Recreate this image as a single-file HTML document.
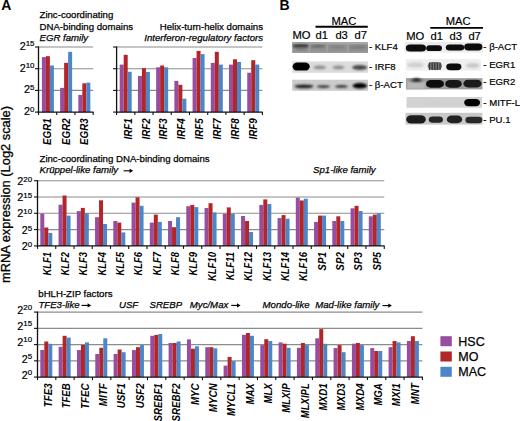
<!DOCTYPE html><html><head><meta charset="utf-8"><style>
html,body{margin:0;padding:0;background:#fff;}
svg{display:block;font-family:"Liberation Sans", sans-serif;}
.cl{font-size:10.2px;font-style:italic;font-weight:bold;fill:#000;}
.yl{font-size:10.8px;fill:#000;stroke:#000;stroke-width:0.2px;}
.sup{font-size:7.9px;}
.h{font-size:9.65px;fill:#000;stroke:#000;stroke-width:0.25px;}
.hi{font-size:9.65px;font-style:italic;fill:#000;stroke:#000;stroke-width:0.25px;}
.bl{font-size:9.6px;fill:#000;stroke:#000;stroke-width:0.2px;}
.bh{font-size:11.2px;fill:#000;stroke:#000;stroke-width:0.2px;}
</style></head><body>
<svg width="520" height="421" viewBox="0 0 520 421">
<rect width="520" height="421" fill="#fff"/>
<text x="0" y="0" transform="translate(1.2 10.1)" style="font-size:14px;font-weight:bold" fill="#000">A</text>
<text x="0" y="0" transform="translate(279.4 10.1)" style="font-size:14px;font-weight:bold" fill="#000">B</text>
<text x="39.5" y="18.1" class="h">Zinc-coordinating</text>
<text x="39.5" y="29.6" class="h">DNA-binding domains</text>
<text x="39.5" y="40.7" class="hi">EGR family</text>
<text x="263" y="29.6" class="h" text-anchor="end">Helix-turn-helix domains</text>
<text x="263" y="40.7" class="hi" text-anchor="end">Interferon-regulatory factors</text>
<line x1="38.50" y1="90.40" x2="93.16" y2="90.40" stroke="#8c8c8c" stroke-width="1.1"/>
<line x1="38.50" y1="68.70" x2="93.16" y2="68.70" stroke="#8c8c8c" stroke-width="1.1"/>
<line x1="38.50" y1="47.00" x2="93.16" y2="47.00" stroke="#8c8c8c" stroke-width="1.1"/>
<rect x="41.90" y="57.10" width="4.00" height="55.00" fill="#984e9f"/>
<rect x="45.90" y="56.20" width="4.00" height="55.90" fill="#b22528"/>
<rect x="49.90" y="65.50" width="4.00" height="46.60" fill="#4c86c8"/>
<rect x="60.12" y="87.90" width="4.00" height="24.20" fill="#984e9f"/>
<rect x="64.12" y="62.80" width="4.00" height="49.30" fill="#b22528"/>
<rect x="68.12" y="51.80" width="4.00" height="60.30" fill="#4c86c8"/>
<rect x="78.34" y="94.90" width="4.00" height="17.20" fill="#984e9f"/>
<rect x="82.34" y="83.30" width="4.00" height="28.80" fill="#b22528"/>
<rect x="86.34" y="82.60" width="4.00" height="29.50" fill="#4c86c8"/>
<line x1="38.50" y1="46.50" x2="38.50" y2="112.70" stroke="#111" stroke-width="1.3"/>
<line x1="37.90" y1="112.10" x2="93.56" y2="112.10" stroke="#111" stroke-width="1.3"/>
<line x1="35.00" y1="112.10" x2="38.50" y2="112.10" stroke="#111" stroke-width="1.1"/>
<line x1="35.00" y1="90.40" x2="38.50" y2="90.40" stroke="#111" stroke-width="1.1"/>
<line x1="35.00" y1="68.70" x2="38.50" y2="68.70" stroke="#111" stroke-width="1.1"/>
<line x1="35.00" y1="47.00" x2="38.50" y2="47.00" stroke="#111" stroke-width="1.1"/>
<line x1="38.50" y1="112.10" x2="38.50" y2="115.10" stroke="#111" stroke-width="1.1"/>
<line x1="56.72" y1="112.10" x2="56.72" y2="115.10" stroke="#111" stroke-width="1.1"/>
<line x1="74.94" y1="112.10" x2="74.94" y2="115.10" stroke="#111" stroke-width="1.1"/>
<line x1="93.16" y1="112.10" x2="93.16" y2="115.10" stroke="#111" stroke-width="1.1"/>
<text x="51.25" y="118.30" transform="rotate(-90 51.25 118.30)" text-anchor="end" class="cl" textLength="26.69" lengthAdjust="spacingAndGlyphs">EGR1</text>
<text x="69.85" y="118.30" transform="rotate(-90 69.85 118.30)" text-anchor="end" class="cl" textLength="26.69" lengthAdjust="spacingAndGlyphs">EGR2</text>
<text x="88.45" y="118.30" transform="rotate(-90 88.45 118.30)" text-anchor="end" class="cl" textLength="26.69" lengthAdjust="spacingAndGlyphs">EGR3</text>
<text x="34.50" y="114.90" text-anchor="end" class="yl">2<tspan dy="-3.4" class="sup">0</tspan></text>
<text x="34.50" y="93.20" text-anchor="end" class="yl">2<tspan dy="-3.4" class="sup">5</tspan></text>
<text x="34.50" y="71.50" text-anchor="end" class="yl">2<tspan dy="-3.4" class="sup">10</tspan></text>
<text x="34.50" y="49.80" text-anchor="end" class="yl">2<tspan dy="-3.4" class="sup">15</tspan></text>
<line x1="116.60" y1="90.40" x2="262.36" y2="90.40" stroke="#8c8c8c" stroke-width="1.1"/>
<line x1="116.60" y1="68.70" x2="262.36" y2="68.70" stroke="#8c8c8c" stroke-width="1.1"/>
<line x1="116.60" y1="47.00" x2="262.36" y2="47.00" stroke="#8c8c8c" stroke-width="1.1"/>
<rect x="119.70" y="64.60" width="4.00" height="47.50" fill="#984e9f"/>
<rect x="123.70" y="54.80" width="4.00" height="57.30" fill="#b22528"/>
<rect x="127.70" y="71.80" width="4.00" height="40.30" fill="#4c86c8"/>
<rect x="137.92" y="75.90" width="4.00" height="36.20" fill="#984e9f"/>
<rect x="141.92" y="68.20" width="4.00" height="43.90" fill="#b22528"/>
<rect x="145.92" y="71.90" width="4.00" height="40.20" fill="#4c86c8"/>
<rect x="156.14" y="67.30" width="4.00" height="44.80" fill="#984e9f"/>
<rect x="160.14" y="65.50" width="4.00" height="46.60" fill="#b22528"/>
<rect x="164.14" y="67.30" width="4.00" height="44.80" fill="#4c86c8"/>
<rect x="174.36" y="80.90" width="4.00" height="31.20" fill="#984e9f"/>
<rect x="178.36" y="84.80" width="4.00" height="27.30" fill="#b22528"/>
<rect x="182.36" y="98.70" width="4.00" height="13.40" fill="#4c86c8"/>
<rect x="192.58" y="58.00" width="4.00" height="54.10" fill="#984e9f"/>
<rect x="196.58" y="50.90" width="4.00" height="61.20" fill="#b22528"/>
<rect x="200.58" y="54.10" width="4.00" height="58.00" fill="#4c86c8"/>
<rect x="210.80" y="62.90" width="4.00" height="49.20" fill="#984e9f"/>
<rect x="214.80" y="51.80" width="4.00" height="60.30" fill="#b22528"/>
<rect x="218.80" y="64.60" width="4.00" height="47.50" fill="#4c86c8"/>
<rect x="229.02" y="64.60" width="4.00" height="47.50" fill="#984e9f"/>
<rect x="233.02" y="59.30" width="4.00" height="52.80" fill="#b22528"/>
<rect x="237.02" y="62.00" width="4.00" height="50.10" fill="#4c86c8"/>
<rect x="247.24" y="72.70" width="4.00" height="39.40" fill="#984e9f"/>
<rect x="251.24" y="60.20" width="4.00" height="51.90" fill="#b22528"/>
<rect x="255.24" y="64.60" width="4.00" height="47.50" fill="#4c86c8"/>
<line x1="116.60" y1="46.50" x2="116.60" y2="112.70" stroke="#111" stroke-width="1.3"/>
<line x1="116.00" y1="112.10" x2="262.76" y2="112.10" stroke="#111" stroke-width="1.3"/>
<line x1="113.10" y1="112.10" x2="116.60" y2="112.10" stroke="#111" stroke-width="1.1"/>
<line x1="113.10" y1="90.40" x2="116.60" y2="90.40" stroke="#111" stroke-width="1.1"/>
<line x1="113.10" y1="68.70" x2="116.60" y2="68.70" stroke="#111" stroke-width="1.1"/>
<line x1="113.10" y1="47.00" x2="116.60" y2="47.00" stroke="#111" stroke-width="1.1"/>
<line x1="116.60" y1="112.10" x2="116.60" y2="115.10" stroke="#111" stroke-width="1.1"/>
<line x1="134.82" y1="112.10" x2="134.82" y2="115.10" stroke="#111" stroke-width="1.1"/>
<line x1="153.04" y1="112.10" x2="153.04" y2="115.10" stroke="#111" stroke-width="1.1"/>
<line x1="171.26" y1="112.10" x2="171.26" y2="115.10" stroke="#111" stroke-width="1.1"/>
<line x1="189.48" y1="112.10" x2="189.48" y2="115.10" stroke="#111" stroke-width="1.1"/>
<line x1="207.70" y1="112.10" x2="207.70" y2="115.10" stroke="#111" stroke-width="1.1"/>
<line x1="225.92" y1="112.10" x2="225.92" y2="115.10" stroke="#111" stroke-width="1.1"/>
<line x1="244.14" y1="112.10" x2="244.14" y2="115.10" stroke="#111" stroke-width="1.1"/>
<line x1="262.36" y1="112.10" x2="262.36" y2="115.10" stroke="#111" stroke-width="1.1"/>
<text x="131.70" y="118.30" transform="rotate(-90 131.70 118.30)" text-anchor="end" class="cl" textLength="21.24" lengthAdjust="spacingAndGlyphs">IRF1</text>
<text x="149.60" y="118.30" transform="rotate(-90 149.60 118.30)" text-anchor="end" class="cl" textLength="21.24" lengthAdjust="spacingAndGlyphs">IRF2</text>
<text x="167.50" y="118.30" transform="rotate(-90 167.50 118.30)" text-anchor="end" class="cl" textLength="21.24" lengthAdjust="spacingAndGlyphs">IRF3</text>
<text x="185.40" y="118.30" transform="rotate(-90 185.40 118.30)" text-anchor="end" class="cl" textLength="21.24" lengthAdjust="spacingAndGlyphs">IRF4</text>
<text x="203.30" y="118.30" transform="rotate(-90 203.30 118.30)" text-anchor="end" class="cl" textLength="21.24" lengthAdjust="spacingAndGlyphs">IRF5</text>
<text x="221.20" y="118.30" transform="rotate(-90 221.20 118.30)" text-anchor="end" class="cl" textLength="21.24" lengthAdjust="spacingAndGlyphs">IRF7</text>
<text x="239.10" y="118.30" transform="rotate(-90 239.10 118.30)" text-anchor="end" class="cl" textLength="21.24" lengthAdjust="spacingAndGlyphs">IRF8</text>
<text x="257.00" y="118.30" transform="rotate(-90 257.00 118.30)" text-anchor="end" class="cl" textLength="21.24" lengthAdjust="spacingAndGlyphs">IRF9</text>
<text x="39.5" y="161.9" class="h">Zinc-coordinating DNA-binding domains</text>
<text x="39.5" y="173" class="hi">Krüppel-like family</text>
<line x1="123.6" y1="170.8" x2="130.39999999999998" y2="170.8" stroke="#000" stroke-width="1.1"/>
<path d="M129.6,168.70000000000002 L133.2,170.8 L129.6,172.9 Z" fill="#000"/>

<text x="313" y="173" class="hi">Sp1-like family</text>
<line x1="37.50" y1="229.60" x2="384.25" y2="229.60" stroke="#8c8c8c" stroke-width="1.1"/>
<line x1="37.50" y1="213.30" x2="384.25" y2="213.30" stroke="#8c8c8c" stroke-width="1.1"/>
<line x1="37.50" y1="197.00" x2="384.25" y2="197.00" stroke="#8c8c8c" stroke-width="1.1"/>
<line x1="37.50" y1="180.70" x2="384.25" y2="180.70" stroke="#8c8c8c" stroke-width="1.1"/>
<rect x="40.30" y="213.60" width="4.00" height="32.30" fill="#984e9f"/>
<rect x="44.30" y="227.50" width="4.00" height="18.40" fill="#b22528"/>
<rect x="48.30" y="232.90" width="4.00" height="13.00" fill="#4c86c8"/>
<rect x="58.55" y="204.70" width="4.00" height="41.20" fill="#984e9f"/>
<rect x="62.55" y="195.50" width="4.00" height="50.40" fill="#b22528"/>
<rect x="66.55" y="215.60" width="4.00" height="30.30" fill="#4c86c8"/>
<rect x="76.80" y="211.10" width="4.00" height="34.80" fill="#984e9f"/>
<rect x="80.80" y="207.90" width="4.00" height="38.00" fill="#b22528"/>
<rect x="84.80" y="213.30" width="4.00" height="32.60" fill="#4c86c8"/>
<rect x="95.05" y="217.20" width="4.00" height="28.70" fill="#984e9f"/>
<rect x="99.05" y="200.30" width="4.00" height="45.60" fill="#b22528"/>
<rect x="103.05" y="224.00" width="4.00" height="21.90" fill="#4c86c8"/>
<rect x="113.30" y="221.00" width="4.00" height="24.90" fill="#984e9f"/>
<rect x="117.30" y="222.60" width="4.00" height="23.30" fill="#b22528"/>
<rect x="121.30" y="232.40" width="4.00" height="13.50" fill="#4c86c8"/>
<rect x="131.55" y="202.60" width="4.00" height="43.30" fill="#984e9f"/>
<rect x="135.55" y="197.30" width="4.00" height="48.60" fill="#b22528"/>
<rect x="139.55" y="205.80" width="4.00" height="40.10" fill="#4c86c8"/>
<rect x="149.80" y="222.60" width="4.00" height="23.30" fill="#984e9f"/>
<rect x="153.80" y="214.60" width="4.00" height="31.30" fill="#b22528"/>
<rect x="157.80" y="221.90" width="4.00" height="24.00" fill="#4c86c8"/>
<rect x="168.05" y="221.00" width="4.00" height="24.90" fill="#984e9f"/>
<rect x="172.05" y="227.20" width="4.00" height="18.70" fill="#b22528"/>
<rect x="176.05" y="217.20" width="4.00" height="28.70" fill="#4c86c8"/>
<rect x="186.30" y="206.20" width="4.00" height="39.70" fill="#984e9f"/>
<rect x="190.30" y="204.90" width="4.00" height="41.00" fill="#b22528"/>
<rect x="194.30" y="207.10" width="4.00" height="38.80" fill="#4c86c8"/>
<rect x="204.55" y="208.00" width="4.00" height="37.90" fill="#984e9f"/>
<rect x="208.55" y="203.20" width="4.00" height="42.70" fill="#b22528"/>
<rect x="212.55" y="212.40" width="4.00" height="33.50" fill="#4c86c8"/>
<rect x="222.80" y="213.70" width="4.00" height="32.20" fill="#984e9f"/>
<rect x="226.80" y="207.40" width="4.00" height="38.50" fill="#b22528"/>
<rect x="230.80" y="213.70" width="4.00" height="32.20" fill="#4c86c8"/>
<rect x="241.05" y="216.00" width="4.00" height="29.90" fill="#984e9f"/>
<rect x="245.05" y="221.00" width="4.00" height="24.90" fill="#b22528"/>
<rect x="249.05" y="232.00" width="4.00" height="13.90" fill="#4c86c8"/>
<rect x="259.30" y="204.90" width="4.00" height="41.00" fill="#984e9f"/>
<rect x="263.30" y="199.40" width="4.00" height="46.50" fill="#b22528"/>
<rect x="267.30" y="204.00" width="4.00" height="41.90" fill="#4c86c8"/>
<rect x="277.55" y="218.10" width="4.00" height="27.80" fill="#984e9f"/>
<rect x="281.55" y="215.10" width="4.00" height="30.80" fill="#b22528"/>
<rect x="285.55" y="218.70" width="4.00" height="27.20" fill="#4c86c8"/>
<rect x="295.80" y="197.60" width="4.00" height="48.30" fill="#984e9f"/>
<rect x="299.80" y="200.50" width="4.00" height="45.40" fill="#b22528"/>
<rect x="303.80" y="198.70" width="4.00" height="47.20" fill="#4c86c8"/>
<rect x="314.05" y="221.90" width="4.00" height="24.00" fill="#984e9f"/>
<rect x="318.05" y="215.60" width="4.00" height="30.30" fill="#b22528"/>
<rect x="322.05" y="215.60" width="4.00" height="30.30" fill="#4c86c8"/>
<rect x="332.30" y="221.00" width="4.00" height="24.90" fill="#984e9f"/>
<rect x="336.30" y="216.30" width="4.00" height="29.60" fill="#b22528"/>
<rect x="340.30" y="221.00" width="4.00" height="24.90" fill="#4c86c8"/>
<rect x="350.55" y="208.30" width="4.00" height="37.60" fill="#984e9f"/>
<rect x="354.55" y="205.80" width="4.00" height="40.10" fill="#b22528"/>
<rect x="358.55" y="211.00" width="4.00" height="34.90" fill="#4c86c8"/>
<rect x="368.80" y="216.30" width="4.00" height="29.60" fill="#984e9f"/>
<rect x="372.80" y="214.60" width="4.00" height="31.30" fill="#b22528"/>
<rect x="376.80" y="213.30" width="4.00" height="32.60" fill="#4c86c8"/>
<line x1="37.50" y1="180.20" x2="37.50" y2="246.50" stroke="#111" stroke-width="1.3"/>
<line x1="36.90" y1="245.90" x2="384.65" y2="245.90" stroke="#111" stroke-width="1.3"/>
<line x1="34.00" y1="245.90" x2="37.50" y2="245.90" stroke="#111" stroke-width="1.1"/>
<line x1="34.00" y1="229.60" x2="37.50" y2="229.60" stroke="#111" stroke-width="1.1"/>
<line x1="34.00" y1="213.30" x2="37.50" y2="213.30" stroke="#111" stroke-width="1.1"/>
<line x1="34.00" y1="197.00" x2="37.50" y2="197.00" stroke="#111" stroke-width="1.1"/>
<line x1="34.00" y1="180.70" x2="37.50" y2="180.70" stroke="#111" stroke-width="1.1"/>
<line x1="37.50" y1="245.90" x2="37.50" y2="248.90" stroke="#111" stroke-width="1.1"/>
<line x1="55.75" y1="245.90" x2="55.75" y2="248.90" stroke="#111" stroke-width="1.1"/>
<line x1="74.00" y1="245.90" x2="74.00" y2="248.90" stroke="#111" stroke-width="1.1"/>
<line x1="92.25" y1="245.90" x2="92.25" y2="248.90" stroke="#111" stroke-width="1.1"/>
<line x1="110.50" y1="245.90" x2="110.50" y2="248.90" stroke="#111" stroke-width="1.1"/>
<line x1="128.75" y1="245.90" x2="128.75" y2="248.90" stroke="#111" stroke-width="1.1"/>
<line x1="147.00" y1="245.90" x2="147.00" y2="248.90" stroke="#111" stroke-width="1.1"/>
<line x1="165.25" y1="245.90" x2="165.25" y2="248.90" stroke="#111" stroke-width="1.1"/>
<line x1="183.50" y1="245.90" x2="183.50" y2="248.90" stroke="#111" stroke-width="1.1"/>
<line x1="201.75" y1="245.90" x2="201.75" y2="248.90" stroke="#111" stroke-width="1.1"/>
<line x1="220.00" y1="245.90" x2="220.00" y2="248.90" stroke="#111" stroke-width="1.1"/>
<line x1="238.25" y1="245.90" x2="238.25" y2="248.90" stroke="#111" stroke-width="1.1"/>
<line x1="256.50" y1="245.90" x2="256.50" y2="248.90" stroke="#111" stroke-width="1.1"/>
<line x1="274.75" y1="245.90" x2="274.75" y2="248.90" stroke="#111" stroke-width="1.1"/>
<line x1="293.00" y1="245.90" x2="293.00" y2="248.90" stroke="#111" stroke-width="1.1"/>
<line x1="311.25" y1="245.90" x2="311.25" y2="248.90" stroke="#111" stroke-width="1.1"/>
<line x1="329.50" y1="245.90" x2="329.50" y2="248.90" stroke="#111" stroke-width="1.1"/>
<line x1="347.75" y1="245.90" x2="347.75" y2="248.90" stroke="#111" stroke-width="1.1"/>
<line x1="366.00" y1="245.90" x2="366.00" y2="248.90" stroke="#111" stroke-width="1.1"/>
<line x1="384.25" y1="245.90" x2="384.25" y2="248.90" stroke="#111" stroke-width="1.1"/>
<text x="50.80" y="252.10" transform="rotate(-90 50.80 252.10)" text-anchor="end" class="cl" textLength="23.42" lengthAdjust="spacingAndGlyphs">KLF1</text>
<text x="69.13" y="252.10" transform="rotate(-90 69.13 252.10)" text-anchor="end" class="cl" textLength="23.42" lengthAdjust="spacingAndGlyphs">KLF2</text>
<text x="87.46" y="252.10" transform="rotate(-90 87.46 252.10)" text-anchor="end" class="cl" textLength="23.42" lengthAdjust="spacingAndGlyphs">KLF3</text>
<text x="105.79" y="252.10" transform="rotate(-90 105.79 252.10)" text-anchor="end" class="cl" textLength="23.42" lengthAdjust="spacingAndGlyphs">KLF4</text>
<text x="124.12" y="252.10" transform="rotate(-90 124.12 252.10)" text-anchor="end" class="cl" textLength="23.42" lengthAdjust="spacingAndGlyphs">KLF5</text>
<text x="142.45" y="252.10" transform="rotate(-90 142.45 252.10)" text-anchor="end" class="cl" textLength="23.42" lengthAdjust="spacingAndGlyphs">KLF6</text>
<text x="160.78" y="252.10" transform="rotate(-90 160.78 252.10)" text-anchor="end" class="cl" textLength="23.42" lengthAdjust="spacingAndGlyphs">KLF7</text>
<text x="179.11" y="252.10" transform="rotate(-90 179.11 252.10)" text-anchor="end" class="cl" textLength="23.42" lengthAdjust="spacingAndGlyphs">KLF8</text>
<text x="197.44" y="252.10" transform="rotate(-90 197.44 252.10)" text-anchor="end" class="cl" textLength="23.42" lengthAdjust="spacingAndGlyphs">KLF9</text>
<text x="215.77" y="252.10" transform="rotate(-90 215.77 252.10)" text-anchor="end" class="cl" textLength="28.87" lengthAdjust="spacingAndGlyphs">KLF10</text>
<text x="234.10" y="252.10" transform="rotate(-90 234.10 252.10)" text-anchor="end" class="cl" textLength="28.14" lengthAdjust="spacingAndGlyphs">KLF11</text>
<text x="252.43" y="252.10" transform="rotate(-90 252.43 252.10)" text-anchor="end" class="cl" textLength="28.87" lengthAdjust="spacingAndGlyphs">KLF12</text>
<text x="270.76" y="252.10" transform="rotate(-90 270.76 252.10)" text-anchor="end" class="cl" textLength="28.87" lengthAdjust="spacingAndGlyphs">KLF13</text>
<text x="289.09" y="252.10" transform="rotate(-90 289.09 252.10)" text-anchor="end" class="cl" textLength="28.87" lengthAdjust="spacingAndGlyphs">KLF14</text>
<text x="307.42" y="252.10" transform="rotate(-90 307.42 252.10)" text-anchor="end" class="cl" textLength="28.87" lengthAdjust="spacingAndGlyphs">KLF16</text>
<text x="325.75" y="252.10" transform="rotate(-90 325.75 252.10)" text-anchor="end" class="cl" textLength="18.52" lengthAdjust="spacingAndGlyphs">SP1</text>
<text x="344.08" y="252.10" transform="rotate(-90 344.08 252.10)" text-anchor="end" class="cl" textLength="18.52" lengthAdjust="spacingAndGlyphs">SP2</text>
<text x="362.41" y="252.10" transform="rotate(-90 362.41 252.10)" text-anchor="end" class="cl" textLength="18.52" lengthAdjust="spacingAndGlyphs">SP3</text>
<text x="380.74" y="252.10" transform="rotate(-90 380.74 252.10)" text-anchor="end" class="cl" textLength="18.52" lengthAdjust="spacingAndGlyphs">SP5</text>
<text x="32.10" y="249.90" text-anchor="end" class="yl">2<tspan dy="-3.0" class="sup">0</tspan></text>
<text x="32.10" y="233.60" text-anchor="end" class="yl">2<tspan dy="-3.0" class="sup">5</tspan></text>
<text x="32.10" y="217.30" text-anchor="end" class="yl">2<tspan dy="-3.0" class="sup">10</tspan></text>
<text x="32.10" y="201.00" text-anchor="end" class="yl">2<tspan dy="-3.0" class="sup">15</tspan></text>
<text x="32.10" y="184.70" text-anchor="end" class="yl">2<tspan dy="-3.0" class="sup">20</tspan></text>
<text x="38.3" y="296.6" class="h">bHLH-ZIP factors</text>
<text x="38.4" y="308.1" class="hi">TFE3-like</text>
<line x1="81.5" y1="305.4" x2="88.4" y2="305.4" stroke="#000" stroke-width="1.1"/>
<path d="M87.60000000000001,303.29999999999995 L91.2,305.4 L87.60000000000001,307.5 Z" fill="#000"/>

<text x="119" y="308.1" class="hi">USF</text>
<text x="149.5" y="308.1" class="hi">SREBP</text>
<text x="189.8" y="308.1" class="hi">Myc/Max</text>
<line x1="231.2" y1="305.4" x2="237.79999999999998" y2="305.4" stroke="#000" stroke-width="1.1"/>
<path d="M237.0,303.29999999999995 L240.6,305.4 L237.0,307.5 Z" fill="#000"/>

<text x="262.6" y="308.1" class="hi">Mondo-like</text>
<text x="315.2" y="308.1" class="hi">Mad-like family</text>
<line x1="382.5" y1="305.6" x2="389.09999999999997" y2="305.6" stroke="#000" stroke-width="1.1"/>
<path d="M388.29999999999995,303.5 L391.9,305.6 L388.29999999999995,307.70000000000005 Z" fill="#000"/>

<line x1="37.50" y1="360.85" x2="422.43" y2="360.85" stroke="#8c8c8c" stroke-width="1.1"/>
<line x1="37.50" y1="344.60" x2="422.43" y2="344.60" stroke="#8c8c8c" stroke-width="1.1"/>
<line x1="37.50" y1="328.35" x2="422.43" y2="328.35" stroke="#8c8c8c" stroke-width="1.1"/>
<line x1="37.50" y1="312.10" x2="422.43" y2="312.10" stroke="#8c8c8c" stroke-width="1.1"/>
<rect x="40.30" y="350.00" width="4.00" height="27.10" fill="#984e9f"/>
<rect x="44.30" y="341.50" width="4.00" height="35.60" fill="#b22528"/>
<rect x="48.30" y="343.80" width="4.00" height="33.30" fill="#4c86c8"/>
<rect x="58.63" y="346.80" width="4.00" height="30.30" fill="#984e9f"/>
<rect x="62.63" y="335.80" width="4.00" height="41.30" fill="#b22528"/>
<rect x="66.63" y="337.60" width="4.00" height="39.50" fill="#4c86c8"/>
<rect x="76.96" y="350.00" width="4.00" height="27.10" fill="#984e9f"/>
<rect x="80.96" y="345.00" width="4.00" height="32.10" fill="#b22528"/>
<rect x="84.96" y="342.40" width="4.00" height="34.70" fill="#4c86c8"/>
<rect x="95.29" y="354.00" width="4.00" height="23.10" fill="#984e9f"/>
<rect x="99.29" y="347.80" width="4.00" height="29.30" fill="#b22528"/>
<rect x="103.29" y="338.30" width="4.00" height="38.80" fill="#4c86c8"/>
<rect x="113.62" y="354.00" width="4.00" height="23.10" fill="#984e9f"/>
<rect x="117.62" y="349.50" width="4.00" height="27.60" fill="#b22528"/>
<rect x="121.62" y="352.20" width="4.00" height="24.90" fill="#4c86c8"/>
<rect x="131.95" y="350.10" width="4.00" height="27.00" fill="#984e9f"/>
<rect x="135.95" y="347.20" width="4.00" height="29.90" fill="#b22528"/>
<rect x="139.95" y="345.10" width="4.00" height="32.00" fill="#4c86c8"/>
<rect x="150.28" y="335.80" width="4.00" height="41.30" fill="#984e9f"/>
<rect x="154.28" y="334.90" width="4.00" height="42.20" fill="#b22528"/>
<rect x="158.28" y="334.00" width="4.00" height="43.10" fill="#4c86c8"/>
<rect x="168.61" y="343.00" width="4.00" height="34.10" fill="#984e9f"/>
<rect x="172.61" y="343.00" width="4.00" height="34.10" fill="#b22528"/>
<rect x="176.61" y="341.50" width="4.00" height="35.60" fill="#4c86c8"/>
<rect x="186.94" y="339.40" width="4.00" height="37.70" fill="#984e9f"/>
<rect x="190.94" y="348.70" width="4.00" height="28.40" fill="#b22528"/>
<rect x="194.94" y="346.30" width="4.00" height="30.80" fill="#4c86c8"/>
<rect x="205.27" y="347.20" width="4.00" height="29.90" fill="#984e9f"/>
<rect x="209.27" y="347.20" width="4.00" height="29.90" fill="#b22528"/>
<rect x="213.27" y="348.30" width="4.00" height="28.80" fill="#4c86c8"/>
<rect x="223.60" y="365.60" width="4.00" height="11.50" fill="#984e9f"/>
<rect x="227.60" y="357.00" width="4.00" height="20.10" fill="#b22528"/>
<rect x="231.60" y="361.10" width="4.00" height="16.00" fill="#4c86c8"/>
<rect x="241.93" y="334.80" width="4.00" height="42.30" fill="#984e9f"/>
<rect x="245.93" y="333.00" width="4.00" height="44.10" fill="#b22528"/>
<rect x="249.93" y="335.80" width="4.00" height="41.30" fill="#4c86c8"/>
<rect x="260.26" y="345.10" width="4.00" height="32.00" fill="#984e9f"/>
<rect x="264.26" y="339.20" width="4.00" height="37.90" fill="#b22528"/>
<rect x="268.26" y="341.00" width="4.00" height="36.10" fill="#4c86c8"/>
<rect x="278.59" y="342.40" width="4.00" height="34.70" fill="#984e9f"/>
<rect x="282.59" y="343.70" width="4.00" height="33.40" fill="#b22528"/>
<rect x="286.59" y="347.80" width="4.00" height="29.30" fill="#4c86c8"/>
<rect x="296.92" y="347.80" width="4.00" height="29.30" fill="#984e9f"/>
<rect x="300.92" y="343.00" width="4.00" height="34.10" fill="#b22528"/>
<rect x="304.92" y="345.10" width="4.00" height="32.00" fill="#4c86c8"/>
<rect x="315.25" y="338.30" width="4.00" height="38.80" fill="#984e9f"/>
<rect x="319.25" y="329.10" width="4.00" height="48.00" fill="#b22528"/>
<rect x="323.25" y="343.80" width="4.00" height="33.30" fill="#4c86c8"/>
<rect x="333.58" y="348.10" width="4.00" height="29.00" fill="#984e9f"/>
<rect x="337.58" y="345.10" width="4.00" height="32.00" fill="#b22528"/>
<rect x="341.58" y="352.20" width="4.00" height="24.90" fill="#4c86c8"/>
<rect x="351.91" y="343.70" width="4.00" height="33.40" fill="#984e9f"/>
<rect x="355.91" y="343.00" width="4.00" height="34.10" fill="#b22528"/>
<rect x="359.91" y="345.10" width="4.00" height="32.00" fill="#4c86c8"/>
<rect x="370.24" y="348.10" width="4.00" height="29.00" fill="#984e9f"/>
<rect x="374.24" y="351.00" width="4.00" height="26.10" fill="#b22528"/>
<rect x="378.24" y="351.00" width="4.00" height="26.10" fill="#4c86c8"/>
<rect x="388.57" y="347.20" width="4.00" height="29.90" fill="#984e9f"/>
<rect x="392.57" y="341.00" width="4.00" height="36.10" fill="#b22528"/>
<rect x="396.57" y="342.40" width="4.00" height="34.70" fill="#4c86c8"/>
<rect x="406.90" y="341.00" width="4.00" height="36.10" fill="#984e9f"/>
<rect x="410.90" y="336.20" width="4.00" height="40.90" fill="#b22528"/>
<rect x="414.90" y="341.00" width="4.00" height="36.10" fill="#4c86c8"/>
<line x1="37.50" y1="311.60" x2="37.50" y2="377.70" stroke="#111" stroke-width="1.3"/>
<line x1="36.90" y1="377.10" x2="422.83" y2="377.10" stroke="#111" stroke-width="1.3"/>
<line x1="34.00" y1="377.10" x2="37.50" y2="377.10" stroke="#111" stroke-width="1.1"/>
<line x1="34.00" y1="360.85" x2="37.50" y2="360.85" stroke="#111" stroke-width="1.1"/>
<line x1="34.00" y1="344.60" x2="37.50" y2="344.60" stroke="#111" stroke-width="1.1"/>
<line x1="34.00" y1="328.35" x2="37.50" y2="328.35" stroke="#111" stroke-width="1.1"/>
<line x1="34.00" y1="312.10" x2="37.50" y2="312.10" stroke="#111" stroke-width="1.1"/>
<line x1="37.50" y1="377.10" x2="37.50" y2="380.10" stroke="#111" stroke-width="1.1"/>
<line x1="55.83" y1="377.10" x2="55.83" y2="380.10" stroke="#111" stroke-width="1.1"/>
<line x1="74.16" y1="377.10" x2="74.16" y2="380.10" stroke="#111" stroke-width="1.1"/>
<line x1="92.49" y1="377.10" x2="92.49" y2="380.10" stroke="#111" stroke-width="1.1"/>
<line x1="110.82" y1="377.10" x2="110.82" y2="380.10" stroke="#111" stroke-width="1.1"/>
<line x1="129.15" y1="377.10" x2="129.15" y2="380.10" stroke="#111" stroke-width="1.1"/>
<line x1="147.48" y1="377.10" x2="147.48" y2="380.10" stroke="#111" stroke-width="1.1"/>
<line x1="165.81" y1="377.10" x2="165.81" y2="380.10" stroke="#111" stroke-width="1.1"/>
<line x1="184.14" y1="377.10" x2="184.14" y2="380.10" stroke="#111" stroke-width="1.1"/>
<line x1="202.47" y1="377.10" x2="202.47" y2="380.10" stroke="#111" stroke-width="1.1"/>
<line x1="220.80" y1="377.10" x2="220.80" y2="380.10" stroke="#111" stroke-width="1.1"/>
<line x1="239.13" y1="377.10" x2="239.13" y2="380.10" stroke="#111" stroke-width="1.1"/>
<line x1="257.46" y1="377.10" x2="257.46" y2="380.10" stroke="#111" stroke-width="1.1"/>
<line x1="275.79" y1="377.10" x2="275.79" y2="380.10" stroke="#111" stroke-width="1.1"/>
<line x1="294.12" y1="377.10" x2="294.12" y2="380.10" stroke="#111" stroke-width="1.1"/>
<line x1="312.45" y1="377.10" x2="312.45" y2="380.10" stroke="#111" stroke-width="1.1"/>
<line x1="330.78" y1="377.10" x2="330.78" y2="380.10" stroke="#111" stroke-width="1.1"/>
<line x1="349.11" y1="377.10" x2="349.11" y2="380.10" stroke="#111" stroke-width="1.1"/>
<line x1="367.44" y1="377.10" x2="367.44" y2="380.10" stroke="#111" stroke-width="1.1"/>
<line x1="385.77" y1="377.10" x2="385.77" y2="380.10" stroke="#111" stroke-width="1.1"/>
<line x1="404.10" y1="377.10" x2="404.10" y2="380.10" stroke="#111" stroke-width="1.1"/>
<line x1="422.43" y1="377.10" x2="422.43" y2="380.10" stroke="#111" stroke-width="1.1"/>
<text x="52.10" y="383.30" transform="rotate(-90 52.10 383.30)" text-anchor="end" class="cl" textLength="23.96" lengthAdjust="spacingAndGlyphs">TFE3</text>
<text x="70.43" y="383.30" transform="rotate(-90 70.43 383.30)" text-anchor="end" class="cl" textLength="25.05" lengthAdjust="spacingAndGlyphs">TFEB</text>
<text x="88.76" y="383.30" transform="rotate(-90 88.76 383.30)" text-anchor="end" class="cl" textLength="25.59" lengthAdjust="spacingAndGlyphs">TFEC</text>
<text x="107.09" y="383.30" transform="rotate(-90 107.09 383.30)" text-anchor="end" class="cl" textLength="22.86" lengthAdjust="spacingAndGlyphs">MITF</text>
<text x="125.42" y="383.30" transform="rotate(-90 125.42 383.30)" text-anchor="end" class="cl" textLength="25.05" lengthAdjust="spacingAndGlyphs">USF1</text>
<text x="143.75" y="383.30" transform="rotate(-90 143.75 383.30)" text-anchor="end" class="cl" textLength="25.05" lengthAdjust="spacingAndGlyphs">USF2</text>
<text x="162.08" y="383.30" transform="rotate(-90 162.08 383.30)" text-anchor="end" class="cl" textLength="38.12" lengthAdjust="spacingAndGlyphs">SREBF1</text>
<text x="180.41" y="383.30" transform="rotate(-90 180.41 383.30)" text-anchor="end" class="cl" textLength="38.12" lengthAdjust="spacingAndGlyphs">SREBF2</text>
<text x="198.74" y="383.30" transform="rotate(-90 198.74 383.30)" text-anchor="end" class="cl" textLength="21.78" lengthAdjust="spacingAndGlyphs">MYC</text>
<text x="217.07" y="383.30" transform="rotate(-90 217.07 383.30)" text-anchor="end" class="cl" textLength="28.85" lengthAdjust="spacingAndGlyphs">MYCN</text>
<text x="235.40" y="383.30" transform="rotate(-90 235.40 383.30)" text-anchor="end" class="cl" textLength="32.68" lengthAdjust="spacingAndGlyphs">MYCL1</text>
<text x="253.73" y="383.30" transform="rotate(-90 253.73 383.30)" text-anchor="end" class="cl" textLength="21.24" lengthAdjust="spacingAndGlyphs">MAX</text>
<text x="272.06" y="383.30" transform="rotate(-90 272.06 383.30)" text-anchor="end" class="cl" textLength="20.15" lengthAdjust="spacingAndGlyphs">MLX</text>
<text x="290.39" y="383.30" transform="rotate(-90 290.39 383.30)" text-anchor="end" class="cl" textLength="29.41" lengthAdjust="spacingAndGlyphs">MLXIP</text>
<text x="308.72" y="383.30" transform="rotate(-90 308.72 383.30)" text-anchor="end" class="cl" textLength="34.86" lengthAdjust="spacingAndGlyphs">MLXIPL</text>
<text x="327.05" y="383.30" transform="rotate(-90 327.05 383.30)" text-anchor="end" class="cl" textLength="27.23" lengthAdjust="spacingAndGlyphs">MXD1</text>
<text x="345.38" y="383.30" transform="rotate(-90 345.38 383.30)" text-anchor="end" class="cl" textLength="27.23" lengthAdjust="spacingAndGlyphs">MXD3</text>
<text x="363.71" y="383.30" transform="rotate(-90 363.71 383.30)" text-anchor="end" class="cl" textLength="27.23" lengthAdjust="spacingAndGlyphs">MXD4</text>
<text x="382.04" y="383.30" transform="rotate(-90 382.04 383.30)" text-anchor="end" class="cl" textLength="22.32" lengthAdjust="spacingAndGlyphs">MGA</text>
<text x="400.37" y="383.30" transform="rotate(-90 400.37 383.30)" text-anchor="end" class="cl" textLength="22.87" lengthAdjust="spacingAndGlyphs">MXI1</text>
<text x="418.70" y="383.30" transform="rotate(-90 418.70 383.30)" text-anchor="end" class="cl" textLength="21.23" lengthAdjust="spacingAndGlyphs">MNT</text>
<text x="32.10" y="378.80" text-anchor="end" class="yl">2<tspan dy="-4.0" class="sup">0</tspan></text>
<text x="32.10" y="362.55" text-anchor="end" class="yl">2<tspan dy="-4.0" class="sup">5</tspan></text>
<text x="32.10" y="346.30" text-anchor="end" class="yl">2<tspan dy="-4.0" class="sup">10</tspan></text>
<text x="32.10" y="330.05" text-anchor="end" class="yl">2<tspan dy="-4.0" class="sup">15</tspan></text>
<text x="32.10" y="313.80" text-anchor="end" class="yl">2<tspan dy="-4.0" class="sup">20</tspan></text>
<text x="9.6" y="283" transform="rotate(-90 9.6 283)" style="font-size:12.3px;stroke:#000;stroke-width:0.3px" fill="#000" textLength="177" lengthAdjust="spacingAndGlyphs">mRNA expression (Log2 scale)</text>
<rect x="440.4" y="336.2" width="11.4" height="10" fill="#984e9f"/>
<text x="458.3" y="345.7" style="font-size:12.5px;stroke:#000;stroke-width:0.25px" fill="#000">HSC</text>
<rect x="440.4" y="351.5" width="11.4" height="10" fill="#b22528"/>
<text x="458.3" y="361.0" style="font-size:12.5px;stroke:#000;stroke-width:0.25px" fill="#000">MO</text>
<rect x="440.4" y="366.8" width="11.4" height="10" fill="#4c86c8"/>
<text x="458.3" y="376.3" style="font-size:12.5px;stroke:#000;stroke-width:0.25px" fill="#000">MAC</text>
<defs><filter id="bl1" x="-50%" y="-100%" width="200%" height="300%"><feGaussianBlur stdDeviation="0.9"/></filter><filter id="bl2" x="-50%" y="-100%" width="200%" height="300%"><feGaussianBlur stdDeviation="0.5"/></filter><filter id="bl3" x="-20%" y="-50%" width="140%" height="200%"><feGaussianBlur stdDeviation="0.4"/></filter></defs>
<text x="343.9" y="24.7" class="bh" text-anchor="middle">MAC</text>
<line x1="315.5" y1="26.8" x2="367.8" y2="26.8" stroke="#000" stroke-width="1.9"/>
<text x="292.4" y="39.3" class="bh">MO</text>
<text x="315.6" y="39.3" class="bh">d1</text>
<text x="335.4" y="39.3" class="bh">d3</text>
<text x="354.6" y="39.3" class="bh">d7</text>
<text x="458.2" y="25.2" class="bh" text-anchor="middle">MAC</text>
<line x1="430.3" y1="27.9" x2="483" y2="27.9" stroke="#000" stroke-width="1.9"/>
<text x="406.3" y="39.8" class="bh">MO</text>
<text x="430.5" y="39.8" class="bh">d1</text>
<text x="449.6" y="39.8" class="bh">d3</text>
<text x="468.4" y="39.8" class="bh">d7</text>
<rect x="292.2" y="42.0" width="75.80" height="10.90" fill="#939393" filter="url(#bl3)"/>
<rect x="292.2" y="42.0" width="75.8" height="2.2" fill="#a8a8a8" filter="url(#bl3)"/>
<rect x="308.6" y="42.5" width="1.4" height="10" fill="#a4a4a4" filter="url(#bl3)"/>
<rect x="326.3" y="42.5" width="1.4" height="10" fill="#a4a4a4" filter="url(#bl3)"/>
<rect x="347.1" y="42.5" width="1.4" height="10" fill="#a4a4a4" filter="url(#bl3)"/>
<ellipse cx="300.80" cy="46.00" rx="8.00" ry="1.60" fill="#262626" filter="url(#bl1)"/>
<ellipse cx="301.00" cy="48.60" rx="5.00" ry="1.00" fill="#707070" filter="url(#bl1)"/>
<ellipse cx="318.25" cy="46.30" rx="7.75" ry="1.30" fill="#606060" filter="url(#bl1)"/>
<ellipse cx="337.50" cy="47.20" rx="8.50" ry="1.50" fill="#7e7e7e" filter="url(#bl1)"/>
<ellipse cx="358.00" cy="47.20" rx="9.00" ry="1.70" fill="#7a7a7a" filter="url(#bl1)"/>
<text x="369" y="50.2" class="bl">- KLF4</text>
<rect x="292.2" y="61.4" width="75.80" height="11.40" fill="#dcdcdc" filter="url(#bl3)"/>
<rect x="292.60" y="62.60" width="17.20" height="8.00" rx="4.80" ry="4.00" fill="#050505" filter="url(#bl2)"/>
<ellipse cx="319.75" cy="67.40" rx="6.25" ry="1.80" fill="#8e8e8e" filter="url(#bl1)"/>
<ellipse cx="338.50" cy="67.40" rx="6.00" ry="1.80" fill="#8e8e8e" filter="url(#bl1)"/>
<ellipse cx="359.70" cy="67.40" rx="7.50" ry="2.50" fill="#4a4a4a" filter="url(#bl1)"/>
<text x="369" y="69.9" class="bl">- IRF8</text>
<rect x="292.2" y="79.7" width="75.80" height="11.10" fill="#cbcbcb" filter="url(#bl3)"/>
<ellipse cx="304.00" cy="86.30" rx="9.50" ry="1.90" fill="#222" filter="url(#bl1)"/>
<ellipse cx="323.40" cy="86.60" rx="6.60" ry="1.40" fill="#333" filter="url(#bl1)"/>
<ellipse cx="341.50" cy="86.40" rx="6.50" ry="1.40" fill="#333" filter="url(#bl1)"/>
<ellipse cx="359.85" cy="85.80" rx="7.35" ry="2.70" fill="#050505" filter="url(#bl1)"/>
<text x="369" y="88.4" class="bl">- β-ACT</text>
<rect x="404.5" y="42.0" width="78.50" height="10.50" fill="#ebebeb" filter="url(#bl3)"/>
<rect x="405.80" y="44.50" width="20.20" height="7.00" rx="4.20" ry="3.50" fill="#080808" filter="url(#bl2)"/>
<rect x="426.20" y="45.30" width="15.80" height="5.80" rx="3.48" ry="2.90" fill="#0a0a0a" filter="url(#bl2)"/>
<rect x="445.80" y="44.40" width="18.40" height="6.00" rx="3.60" ry="3.00" fill="#080808" filter="url(#bl2)"/>
<rect x="464.20" y="43.60" width="18.20" height="6.80" rx="4.08" ry="3.40" fill="#080808" filter="url(#bl2)"/>
<text x="483.3" y="49.5" class="bl">- β-ACT</text>
<rect x="405.8" y="59.1" width="75.20" height="11.60" fill="#efefef" filter="url(#bl3)"/>
<ellipse cx="415.50" cy="65.00" rx="8.50" ry="2.75" fill="#d2d2d2" filter="url(#bl1)"/>
<rect x="427.60" y="62.00" width="14.40" height="8.00" rx="4.80" ry="4.00" fill="#767676" filter="url(#bl2)"/>
<rect x="428.9" y="62.5" width="1.3" height="7.5" fill="#3a3a3a" filter="url(#bl2)"/>
<rect x="431.59999999999997" y="62.5" width="1.3" height="7.5" fill="#3a3a3a" filter="url(#bl2)"/>
<rect x="434.2" y="62.5" width="1.3" height="7.5" fill="#3a3a3a" filter="url(#bl2)"/>
<rect x="436.79999999999995" y="62.5" width="1.3" height="7.5" fill="#3a3a3a" filter="url(#bl2)"/>
<rect x="439.4" y="62.5" width="1.3" height="7.5" fill="#3a3a3a" filter="url(#bl2)"/>
<rect x="446.20" y="63.40" width="15.20" height="6.80" rx="4.08" ry="3.40" fill="#0a0a0a" filter="url(#bl2)"/>
<ellipse cx="472.75" cy="65.50" rx="6.75" ry="2.50" fill="#c8c8c8" filter="url(#bl1)"/>
<text x="483.3" y="68.3" class="bl">- EGR1</text>
<rect x="406.0" y="78.2" width="76.40" height="11.20" fill="#9c9c9c" filter="url(#bl3)"/>
<rect x="407" y="80.5" width="18" height="8.5" fill="#b8b8b8" filter="url(#bl1)"/>
<ellipse cx="416.50" cy="80.60" rx="7.50" ry="1.40" fill="#555" filter="url(#bl1)"/>
<ellipse cx="416.50" cy="79.80" rx="3.50" ry="1.50" fill="#222" filter="url(#bl1)"/>
<rect x="426.00" y="80.10" width="18.00" height="7.60" rx="4.56" ry="3.80" fill="#111" filter="url(#bl2)"/>
<rect x="445.20" y="80.10" width="16.60" height="7.60" rx="4.56" ry="3.80" fill="#151515" filter="url(#bl2)"/>
<rect x="463.40" y="79.80" width="18.20" height="7.60" rx="4.56" ry="3.80" fill="#1a1a1a" filter="url(#bl2)"/>
<text x="483.3" y="85.3" class="bl">- EGR2</text>
<rect x="406.5" y="97.0" width="75.50" height="10.70" fill="#d2d2d2" filter="url(#bl3)"/>
<ellipse cx="434.00" cy="103.00" rx="9.00" ry="1.50" fill="#d0d0d0" filter="url(#bl1)"/>
<ellipse cx="453.00" cy="103.00" rx="8.00" ry="1.50" fill="#cfcfcf" filter="url(#bl1)"/>
<rect x="464.20" y="98.90" width="15.80" height="7.40" rx="4.44" ry="3.70" fill="#000" filter="url(#bl2)"/>
<text x="483.3" y="105.8" class="bl">- MITF-L</text>
<rect x="405.5" y="112.8" width="76.90" height="11.80" fill="#c8c8c8" filter="url(#bl3)"/>
<rect x="406.20" y="115.30" width="19.60" height="8.20" rx="4.92" ry="4.10" fill="#1e1e1e" filter="url(#bl2)"/>
<rect x="428.80" y="116.40" width="14.20" height="6.40" rx="3.84" ry="3.20" fill="#262626" filter="url(#bl2)"/>
<rect x="446.80" y="115.60" width="15.40" height="7.60" rx="4.56" ry="3.80" fill="#222" filter="url(#bl2)"/>
<rect x="465.40" y="116.80" width="17.00" height="6.40" rx="3.84" ry="3.20" fill="#2a2a2a" filter="url(#bl2)"/>
<text x="483.3" y="122.8" class="bl">- PU.1</text>
</svg></body></html>
